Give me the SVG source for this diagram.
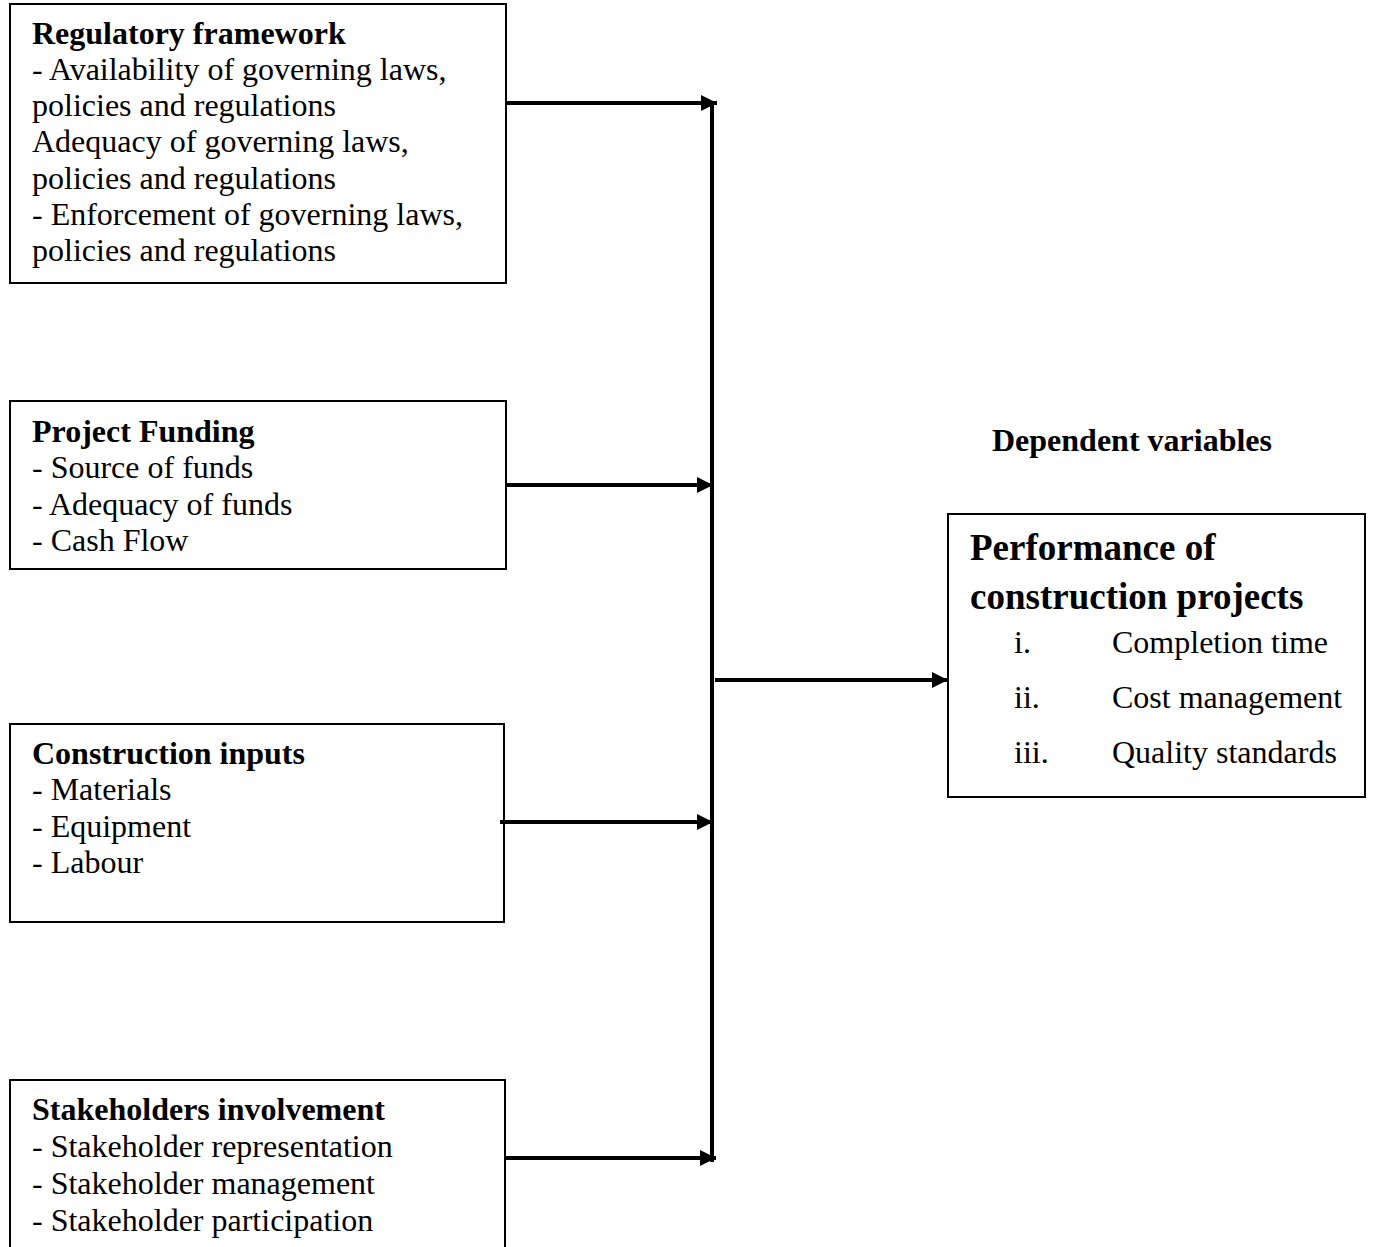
<svg xmlns="http://www.w3.org/2000/svg" width="1373" height="1247" viewBox="0 0 1373 1247">
<style>
.box{fill:#fff;stroke:#000;stroke-width:2}
text{font-family:"Liberation Serif","Times New Roman",serif;fill:#000}
.t{font-size:32px;font-weight:bold}
.b{font-size:32px}
.big{font-size:37px;font-weight:bold}
.con{stroke:#000;stroke-width:4;fill:none}
</style>
<defs>
<marker id="ah" viewBox="0 0 10 10" refX="10" refY="5" markerWidth="4" markerHeight="4" markerUnits="strokeWidth" orient="auto">
<path d="M0,0 L10,5 L0,10 z" fill="#000"/>
</marker>
</defs>
<g id="n-regulatory">
<rect class="box" x="10" y="4" width="496" height="279"/>
<text class="t" x="32" y="44">Regulatory framework</text>
<text class="b" x="32" y="80">- Availability of governing laws,</text>
<text class="b" x="32" y="116">policies and regulations</text>
<text class="b" x="32" y="152">Adequacy of governing laws,</text>
<text class="b" x="32" y="189">policies and regulations</text>
<text class="b" x="32" y="225">- Enforcement of governing laws,</text>
<text class="b" x="32" y="261">policies and regulations</text>
</g>
<g id="n-funding">
<rect class="box" x="10" y="401" width="496" height="168"/>
<text class="t" x="32" y="442">Project Funding</text>
<text class="b" x="32" y="478">- Source of funds</text>
<text class="b" x="32" y="515">- Adequacy of funds</text>
<text class="b" x="32" y="551">- Cash Flow</text>
</g>
<g id="n-inputs">
<rect class="box" x="10" y="724" width="494" height="198"/>
<text class="t" x="32" y="764">Construction inputs</text>
<text class="b" x="32" y="800">- Materials</text>
<text class="b" x="32" y="837">- Equipment</text>
<text class="b" x="32" y="873">- Labour</text>
</g>
<g id="n-stakeholders">
<rect class="box" x="10" y="1080" width="495" height="200"/>
<text class="t" x="32" y="1120">Stakeholders involvement</text>
<text class="b" x="32" y="1157">- Stakeholder representation</text>
<text class="b" x="32" y="1194">- Stakeholder management</text>
<text class="b" x="32" y="1231">- Stakeholder participation</text>
</g>
<g id="n-dependent-label">
<text class="t" x="992" y="451">Dependent variables</text>
</g>
<g id="n-performance">
<rect class="box" x="948" y="514" width="417" height="283"/>
<text class="big" x="970" y="560">Performance of</text>
<text class="big" x="970" y="609">construction projects</text>
<text class="b" x="1014" y="653">i.</text>
<text class="b" x="1112" y="653">Completion time</text>
<text class="b" x="1014" y="708">ii.</text>
<text class="b" x="1112" y="708">Cost management</text>
<text class="b" x="1014" y="763">iii.</text>
<text class="b" x="1112" y="763">Quality standards</text>
</g>
<g id="connectors">
<line class="con" x1="712" y1="101" x2="712" y2="1162"/>
<line class="con" x1="506" y1="103" x2="717" y2="103" marker-end="url(#ah)"/>
<line class="con" x1="506" y1="485" x2="713" y2="485" marker-end="url(#ah)"/>
<line class="con" x1="500" y1="822" x2="713" y2="822" marker-end="url(#ah)"/>
<line class="con" x1="505" y1="1158" x2="716" y2="1158" marker-end="url(#ah)"/>
<line class="con" x1="715" y1="680" x2="948" y2="680" marker-end="url(#ah)"/>
</g>
</svg>
